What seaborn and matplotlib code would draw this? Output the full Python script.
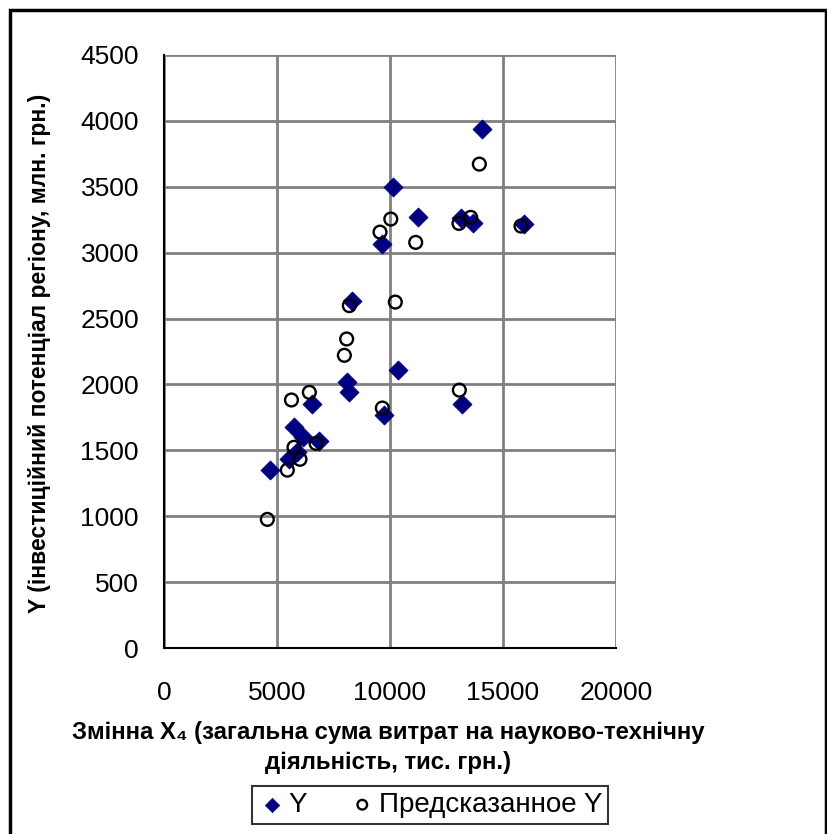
import matplotlib
matplotlib.use("Agg")
import matplotlib.pyplot as plt
import seaborn as sns
import pandas as pd
from matplotlib.patches import Rectangle

# Actual Y
x_actual = [4690, 5545, 5880, 5750, 6137, 6873, 6534, 8083, 8186, 9735,
            10332, 8304, 13171, 14056, 10147, 11225, 9660, 13163, 13687, 15930]
y_actual = [1350, 1432, 1487, 1679, 1599, 1571, 1849, 2021, 1940, 1768,
            2111, 2635, 1849, 3935, 3500, 3268, 3065, 3260, 3227, 3217]

# Predicted Y
x_pred = [13953, 10035, 9558, 11137, 13053, 13570, 15796, 8200, 10235, 8083,
          7980, 13068, 9661, 6431, 5640, 5752, 6726, 6018, 5457, 4572]
y_pred = [3672, 3255, 3156, 3078, 3222, 3268, 3202, 2598, 2625, 2345,
          2221, 1957, 1821, 1940, 1882, 1523, 1553, 1432, 1350, 976]

x_ticks = [0, 5000, 10000, 15000, 20000]
y_ticks = [0, 500, 1000, 1500, 2000, 2500, 3000, 3500, 4000, 4500]

sns.set_style("white")
plt.rcParams["font.family"] = ["Liberation Sans", "DejaVu Sans"]
plt.rcParams["text.color"] = "black"
plt.rcParams["xtick.color"] = "black"
plt.rcParams["ytick.color"] = "black"
plt.rcParams["axes.labelcolor"] = "black"

fig = plt.figure(figsize=(8.27, 8.34), dpi=100)
ax = fig.add_axes([164 / 827, 1 - 648 / 834, (616 - 164) / 827, (648 - 55) / 834])

df_a = pd.DataFrame({"x": x_actual, "y": y_actual})
df_p = pd.DataFrame({"x": x_pred, "y": y_pred})

sns.scatterplot(data=df_a, x="x", y="y", ax=ax, marker="D", s=95,
                color="#000080", edgecolor="#000080", linewidth=0.5,
                label="Y", zorder=3)
sns.scatterplot(data=df_p, x="x", y="y", ax=ax, marker="o", s=85,
                facecolor="none", edgecolor="black", linewidth=1.7,
                label="Предсказанное Y", zorder=4)

ax.set_xlim(0, 20000)
ax.set_ylim(0, 4500)
ax.set_xticks(x_ticks)
ax.set_yticks(y_ticks)
ax.tick_params(axis="both", labelsize=19, direction="inout", length=16,
               width=1.5, color="black")
ax.tick_params(axis="y", pad=10)
ax.tick_params(axis="x", pad=16)
ax.grid(True, color="#808080", linewidth=2)
ax.set_axisbelow(True)
for side in ["top", "right"]:
    ax.spines[side].set_visible(False)
for side in ["left", "bottom"]:
    ax.spines[side].set_color("black")
    ax.spines[side].set_linewidth(1.5)

ax.set_xlabel("")
ax.set_ylabel("Y (інвестиційний потенціал регіону, млн. грн.)",
              fontsize=16.5, fontweight="bold")
ax.yaxis.set_label_coords((51 - 164) / 452, (648 - 353) / 593)

fig.text(388 / 827, 1 - 733 / 834,
         "Змінна X\u2084 (загальна сума витрат на науково-технічну",
         ha="center", va="center", fontsize=17.3, fontweight="bold")
fig.text(388 / 827, 1 - 762 / 834, "діяльність, тис. грн.)",
         ha="center", va="center", fontsize=17.3, fontweight="bold")

leg = ax.legend(loc="center", bbox_to_anchor=(430 / 827, 1 - 805 / 834),
                bbox_transform=fig.transFigure, ncol=2, fontsize=20,
                frameon=True, fancybox=False, edgecolor="black",
                handletextpad=0.1, columnspacing=1.5, markerscale=0.75,
                handlelength=1.0, borderpad=0.22, borderaxespad=0)
leg.get_frame().set_linewidth(1.5)

# outer chart frame
fig.patches.append(Rectangle((10 / 827, -0.01), 816 / 827, 1 - 10 / 834 + 0.01,
                             transform=fig.transFigure, fill=False,
                             edgecolor="black", linewidth=2.5))

fig.savefig("out.png", dpi=100)
